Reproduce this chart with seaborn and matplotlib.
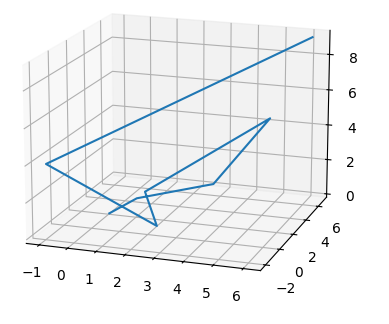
import numpy as np
import matplotlib
matplotlib.use("Agg")
import matplotlib.pyplot as plt
import seaborn as sns

# data
x = [0.81, 1.45, 2.44, 6.41, 1.46, 3.04, -1.30, 6.14]
y = [-0.55, 0.59, 7.15, -0.93, 1.56, -2.50, -0.94, 6.53]
z = [1.00, 1.50, 0.00, 7.11, 1.50, 1.47, 3.52, 9.16]

plt.rcParams['font.family'] = ['DejaVu Sans']

fig = plt.figure(figsize=(3.89, 3.24), dpi=100)
ax = fig.add_axes([-0.0228, -0.0031, 0.9540, 1.1454], projection='3d')
color = sns.color_palette("tab10")[0]
ax.plot(x, y, z, color=color, lw=1.5)
ax.set_xlim(-1.46, 6.57)
ax.set_ylim(-2.7, 7.4)
ax.set_zlim(-0.19, 9.35)
ax.view_init(elev=16, azim=-71)
fig.savefig("out.png", dpi=100)
